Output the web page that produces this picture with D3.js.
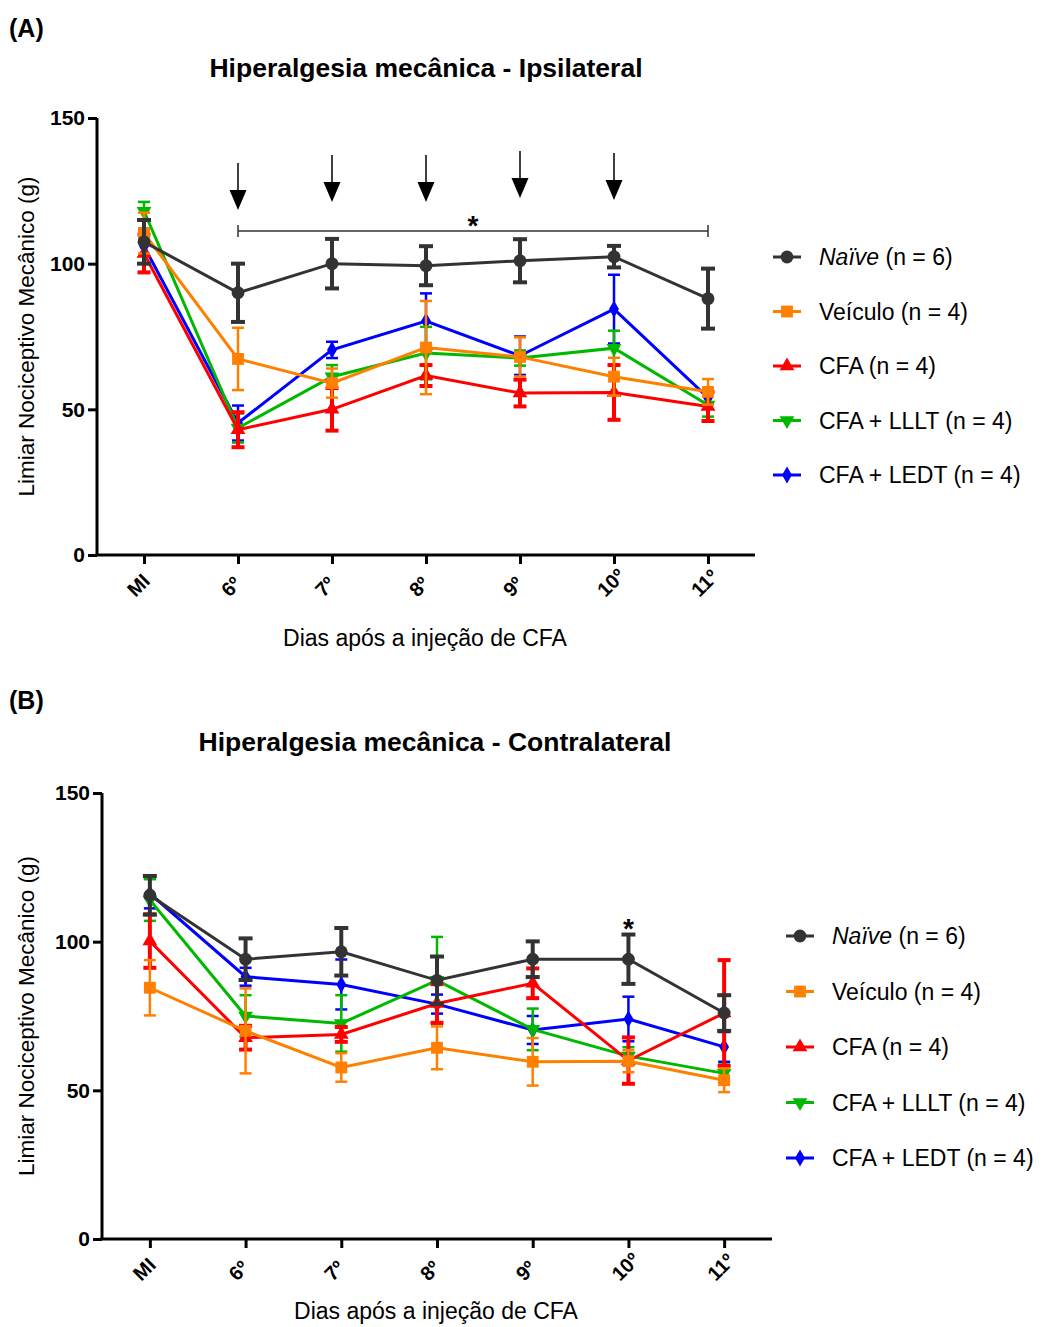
<!DOCTYPE html>
<html>
<head>
<meta charset="utf-8">
<script src="https://cdn.jsdelivr.net/npm/d3@7"></script>
<style>
  body { margin: 0; background: #fff; }
  text { font-family: "Liberation Sans", Arial, sans-serif; }
</style>
</head>
<body>
<script>
// dias de avaliação
var days = ['MI', '6º', '7º', '8º', '9º', '10º', '11º'];
var yTicks = [0, 50, 100, 150];

var groupNames = ['Naïve', 'Veículo', 'CFA', 'CFA + LLLT', 'CFA + LEDT'];
var groupN = [6, 4, 4, 4, 4];
var groupColors = ['#333333', '#ff8000', '#ff0000', '#00b800', '#0000ff'];

// (A) ipsilateral - média e EPM
var ipsiNaive = [107.5, 90, 100, 99.3, 101, 102.4, 88];
var ipsiNaiveErr = [7.5, 10, 8.5, 6.7, 7.4, 3.7, 10.3];
var ipsiVeiculo = [110.5, 67.3, 59, 71.2, 68, 61.2, 56];
var ipsiVeiculoErr = [7, 10.7, 5, 16, 6.7, 6.5, 4.4];
var ipsiCfa = [103.5, 43, 50, 61.6, 55.6, 55.8, 51];
var ipsiCfaErr = [6.5, 6, 7.3, 3.6, 4.6, 9.4, 5];
var ipsiLllt = [118, 43.6, 61.2, 69.3, 67.6, 71, 51.5];
var ipsiLlltErr = [3.2, 5, 4, 9, 2.6, 6, 4];
var ipsiLedt = [106, 45.3, 70.4, 80.3, 68.4, 84.4, 54];
var ipsiLedtErr = [6, 6, 2.8, 9.5, 6.6, 11.8, 2];

// (B) contralateral - média e EPM
var contraNaive = [115.6, 94.1, 96.6, 87, 94.1, 94.1, 76];
var contraNaiveErr = [6.5, 7, 8, 8, 6, 8.3, 6];
var contraVeiculo = [84.5, 70, 57.7, 64.3, 59.6, 59.8, 53.4];
var contraVeiculoErr = [9.3, 14.3, 4.8, 7.2, 8, 3.7, 4];
var contraCfa = [100.2, 67.7, 68.8, 79.2, 86, 60, 76];
var contraCfaErr = [9, 4, 2.5, 6.5, 5, 7.8, 17.8];
var contraLllt = [114, 75, 72.5, 87, 70.5, 61.5, 55.7];
var contraLlltErr = [7, 7, 9.5, 14.6, 7, 3, 3];
var contraLedt = [116.2, 88.2, 85.6, 79, 70.3, 74, 64.6];
var contraLedtErr = [5, 3, 8.4, 3.2, 4.7, 7.5, 5];

var W = 1043, H = 1327;
var FONT = '"Liberation Sans", Arial, sans-serif';
var svg = d3.select('body').append('svg').attr('width', W).attr('height', H);

var symbols = [
  d3.symbol().type(d3.symbolCircle).size(130),
  d3.symbol().type(d3.symbolSquare).size(140),
  d3.symbol().type(d3.symbolTriangle).size(95),
  d3.symbol().type(d3.symbolTriangle).size(95),
  d3.symbol().type(d3.symbolDiamond).size(85)
];
var symbolRotate = [0, 0, 0, 180, 0];
var errWidth = [4, 2.5, 4, 2.5, 2.5];
var capHalf = [7, 6, 6.5, 6, 6];

function drawPanel(p) {
  var g = svg.append('g');
  var x = d3.scalePoint().domain(days).range([p.left, p.right]).padding(0.5);
  var y = d3.scaleLinear().domain([0, 150]).range([p.bottom, p.top]);

  g.append('text').attr('x', 9).attr('y', p.labelY).attr('font-size', 25)
    .attr('font-weight', 'bold').text(p.label);
  g.append('text').attr('x', p.titleX).attr('y', p.titleY).attr('font-size', 26.5)
    .attr('font-weight', 'bold').attr('text-anchor', 'middle').text(p.title);

  // eixo y
  var ya = g.append('g').attr('transform', 'translate(' + p.left + ',0)')
    .call(d3.axisLeft(y).tickValues(yTicks).tickSize(9).tickPadding(3));
  ya.select('.domain').attr('stroke-width', 3).attr('d', 'M0,' + p.top + 'V' + p.bottom);
  ya.selectAll('.tick line').attr('stroke-width', 3);
  ya.selectAll('.tick text').attr('font-size', 21).attr('font-weight', 'bold')
    .attr('font-family', FONT).attr('fill', '#000');

  // eixo x
  var xa = g.append('g').attr('transform', 'translate(0,' + p.bottom + ')')
    .call(d3.axisBottom(x).tickSize(9).tickSizeOuter(0));
  xa.select('.domain').attr('stroke-width', 3).attr('d', 'M' + (p.left - 1.5) + ',0H' + p.right);
  xa.selectAll('.tick line').attr('stroke-width', 3);
  xa.selectAll('.tick text').attr('font-size', 20).attr('font-weight', 'bold')
    .attr('font-family', FONT).attr('fill', '#000')
    .attr('text-anchor', 'start').attr('dy', null).attr('y', 0)
    .attr('transform', 'translate(-9,43) rotate(-45)');

  g.append('text').attr('x', (p.left + p.right) / 2 - 1).attr('y', p.bottom + p.xTitleOff)
    .attr('font-size', 23).attr('text-anchor', 'middle').text('Dias após a injeção de CFA');
  g.append('text').attr('transform', 'translate(34,' + (p.top + p.bottom) / 2 + ') rotate(-90)')
    .attr('font-size', 22.5).attr('text-anchor', 'middle').text('Limiar Nociceptivo Mecânico (g)');

  // séries (desenhadas da última para a primeira)
  for (var s = p.series.length - 1; s >= 0; s--) {
    var vals = p.series[s], errs = p.errors[s], col = groupColors[s];
    var pts = days.map(function(d, i) { return {d: d, v: vals[i], e: errs[i]}; });
    var sg = g.append('g');
    sg.selectAll('line.err').data(pts).enter().append('line')
      .attr('x1', function(d) { return x(d.d); }).attr('x2', function(d) { return x(d.d); })
      .attr('y1', function(d) { return y(d.v - d.e); }).attr('y2', function(d) { return y(d.v + d.e); })
      .attr('stroke', col).attr('stroke-width', errWidth[s]);
    [-1, 1].forEach(function(k) {
      sg.selectAll(null).data(pts).enter().append('line')
        .attr('x1', function(d) { return x(d.d) - capHalf[s]; })
        .attr('x2', function(d) { return x(d.d) + capHalf[s]; })
        .attr('y1', function(d) { return y(d.v + k * d.e); })
        .attr('y2', function(d) { return y(d.v + k * d.e); })
        .attr('stroke', col).attr('stroke-width', errWidth[s]);
    });
    sg.append('path').datum(pts)
      .attr('d', d3.line().x(function(d) { return x(d.d); }).y(function(d) { return y(d.v); }))
      .attr('fill', 'none').attr('stroke', col).attr('stroke-width', 3);
    sg.selectAll('path.pt').data(pts).enter().append('path')
      .attr('d', symbols[s])
      .attr('transform', function(d) { return 'translate(' + x(d.d) + ',' + y(d.v) + ') rotate(' + symbolRotate[s] + ')'; })
      .attr('fill', col);
  }

  // legenda
  groupNames.forEach(function(name, i) {
    var ly = p.legY + i * p.legStep;
    var lg = g.append('g').attr('transform', 'translate(' + p.legX + ',' + ly + ')');
    lg.append('line').attr('x1', 0).attr('x2', 28).attr('stroke', groupColors[i]).attr('stroke-width', 3);
    lg.append('path').attr('d', symbols[i]).attr('fill', groupColors[i])
      .attr('transform', 'translate(14,0) rotate(' + symbolRotate[i] + ')');
    var t = lg.append('text').attr('x', 46).attr('y', 8).attr('font-size', 23);
    t.append('tspan').attr('font-style', i === 0 ? 'italic' : 'normal').text(name);
    t.append('tspan').text(' (n = ' + groupN[i] + ')');
  });

  return {x: x, y: y, g: g};
}

var A = drawPanel({
  label: '(A)', labelY: 37, title: 'Hiperalgesia mecânica - Ipsilateral', titleX: 426, titleY: 77,
  left: 97, right: 755, top: 118, bottom: 555, xTitleOff: 91,
  series: [ipsiNaive, ipsiVeiculo, ipsiCfa, ipsiLllt, ipsiLedt],
  errors: [ipsiNaiveErr, ipsiVeiculoErr, ipsiCfaErr, ipsiLlltErr, ipsiLedtErr],
  legX: 773, legY: 257, legStep: 54.5
});

// setas dos dias de tratamento
var arrowDays = ['6º', '7º', '8º', '9º', '10º'];
var arrowTop = [163, 155, 155, 151, 153];
arrowDays.forEach(function(d, i) {
  var ax = A.x(d), tip = arrowTop[i] + 47;
  A.g.append('line').attr('x1', ax).attr('x2', ax).attr('y1', arrowTop[i]).attr('y2', tip - 18)
    .attr('stroke', '#000').attr('stroke-width', 1.5);
  A.g.append('path').attr('d', 'M' + (ax - 8.5) + ',' + (tip - 20) + 'L' + (ax + 8.5) + ',' + (tip - 20) + 'L' + ax + ',' + tip + 'Z')
    .attr('fill', '#000');
});
// barra de significância
var bx1 = A.x('6º'), bx2 = A.x('11º');
A.g.append('path').attr('d', 'M' + bx1 + ',225V237M' + bx1 + ',231H' + bx2 + 'M' + bx2 + ',225V237')
  .attr('stroke', '#333').attr('stroke-width', 1.5).attr('fill', 'none');
A.g.append('text').attr('x', (bx1 + bx2) / 2).attr('y', 235).attr('font-size', 28)
  .attr('font-weight', 'bold').attr('text-anchor', 'middle').text('*');

var B = drawPanel({
  label: '(B)', labelY: 709, title: 'Hiperalgesia mecânica - Contralateral', titleX: 435, titleY: 751,
  left: 102, right: 772, top: 793, bottom: 1239, xTitleOff: 80,
  series: [contraNaive, contraVeiculo, contraCfa, contraLllt, contraLedt],
  errors: [contraNaiveErr, contraVeiculoErr, contraCfaErr, contraLlltErr, contraLedtErr],
  legX: 786, legY: 936, legStep: 55.5
});
B.g.append('text').attr('x', B.x('10º')).attr('y', 938).attr('font-size', 28)
  .attr('font-weight', 'bold').attr('text-anchor', 'middle').text('*');
</script>
</body>
</html>
